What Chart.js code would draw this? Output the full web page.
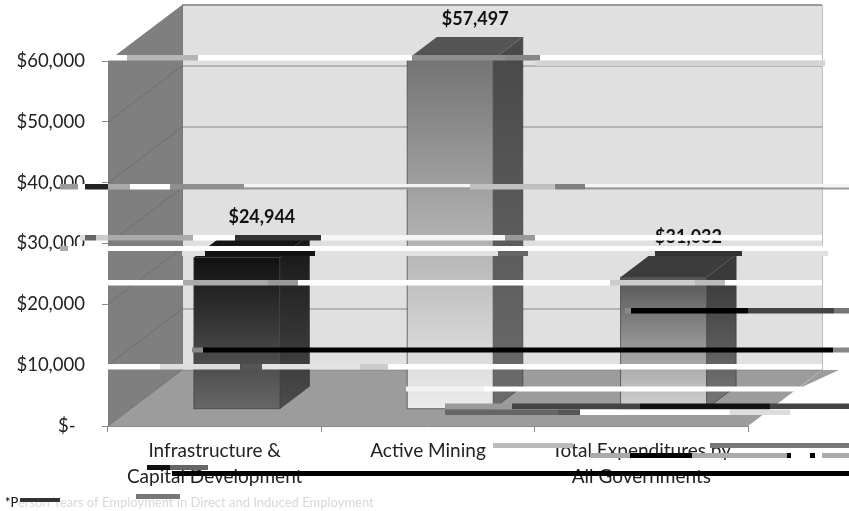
<!DOCTYPE html>
<html>
<head>
<meta charset="utf-8">
<style>
  html, body { margin: 0; padding: 0; background: #fff; }
  canvas { display: block; }
</style>
<script src="https://cdn.jsdelivr.net/npm/chart.js@4"></script>
</head>
<body>
<canvas id="chart" width="849" height="511"></canvas>
<script>
const categories = [['Infrastructure &', 'Capital Development'], ['Active Mining'], ['Total Expenditures by', 'All Governments']];
const values = [24944, 57497, 21700];
const barLabels = ['$24,944', '$57,497', '$31,032'];
const yTicks = [0, 10000, 20000, 30000, 40000, 50000, 60000];
const yTickLabels = ['$-  ', '$10,000', '$20,000', '$30,000', '$40,000', '$50,000', '$60,000'];
const footnote = '*Person Years of Employment in Direct and Induced Employment';

// colours per bar: front top/bottom, side top/bottom, lid
const barColors = [
  ['#111111', '#666666', '#1c1c1c', '#4c4c4c', '#161616'],
  ['#747474', '#ececec', '#4a4a4a', '#6c6c6c', '#555555'],
  ['#555555', '#d2d2d2', '#3a3a3a', '#787878', '#3c3c3c']
];

const FONT = 'Lato, sans-serif';
// depth of the 3d box
const DX = 74, DY = 56;
const BAR_Z0 = 0.3, BAR_Z1 = 0.7;

// scan line damage in the source image: x0, x1, y0, y1, colour
const damage = [
  [108, 127, 55, 60.5, '#fff'], [127, 198, 55, 60.5, '#b5b5b5'], [198, 412, 55, 60.5, '#fff'],
  [412, 505, 55, 60.5, '#8e8e8e'], [505, 540, 55, 60.5, '#868686'], [540, 822, 55, 60.5, '#fff'],
  [535, 825, 60.5, 66, '#d4d4d4'],
  [60, 78, 184, 189.5, '#999'], [78, 85, 184, 189.5, '#fff'], [85, 108, 184, 189.5, '#222'], [108, 130, 184, 189.5, '#aaa'], [130, 170, 184, 189.5, '#fff'],
  [170, 244, 184, 189.5, '#8f8f8f'], [244, 470, 184, 187.5, '#f4f4f4'], [244, 470, 187.5, 189.5, '#999'],
  [470, 555, 184, 189.5, '#c0c0c0'], [555, 585, 184, 189.5, '#808080'],
  [585, 849, 184, 187.5, '#f4f4f4'], [585, 849, 187.5, 189.5, '#999'],
  [80, 85, 235, 240.5, '#ddd'], [85, 96, 235, 240.5, '#666'], [96, 108, 235, 240.5, '#ccc'], [108, 193, 235, 240.5, '#aaa'], [193, 235, 235, 240.5, '#fff'],
  [235, 321, 235, 240.5, '#333'], [321, 505, 235, 240.5, '#f6f6f6'], [505, 535, 235, 240.5, '#999'],
  [535, 822, 235, 240.5, '#fff'],
  [60, 68, 246, 251, '#aaa'], [68, 830, 246, 251, '#fff'],
  [182, 205, 251, 256, '#e0e0e0'], [205, 315, 251, 256, '#111'], [315, 498, 251, 256, '#e0e0e0'],
  [498, 528, 251, 256, '#666'], [528, 655, 251, 256, '#e0e0e0'], [655, 742, 251, 256, '#333'], [742, 828, 251, 256, '#e0e0e0'],
  [108, 183, 280, 285.5, '#fff'], [183, 268, 280, 285.5, '#aaa'], [268, 298, 280, 285.5, '#999'],
  [298, 610, 280, 285.5, '#fff'], [610, 695, 280, 285.5, '#ccc'], [695, 725, 280, 285.5, '#bbb'], [725, 822, 280, 285.5, '#fff'],
  [625, 631, 308, 313.5, '#888'], [631, 748, 308, 313.5, '#000'], [748, 834, 308, 313.5, '#444'], [834, 849, 308, 313.5, '#777'],
  [192, 203, 347.5, 352.5, '#888'], [203, 833, 347.5, 352.5, '#000'], [833, 849, 347.5, 352.5, '#888'],
  [100, 160, 364, 369.5, '#fff'], [160, 240, 364, 369.5, '#ddd'], [242, 262, 364, 369.5, '#555'],
  [262, 360, 364, 369.5, '#e2e2e2'], [360, 388, 364, 369.5, '#ccc'], [388, 822, 364, 369.5, '#fff'],
  [406, 484, 386.5, 391.5, '#f2f2f2'], [484, 802, 386.5, 391.5, '#fff'],
  [445, 512, 403.5, 409, '#9a9a9a'], [512, 640, 403.5, 409, '#444'], [640, 770, 403.5, 409, '#111'], [770, 849, 403.5, 409, '#444'],
  [445, 558, 409.5, 415, '#666'], [558, 580, 409.5, 415, '#555'], [580, 730, 409.5, 415, '#fff'], [730, 790, 409.5, 415, '#ddd'],
  [493, 573, 443, 448, '#bbb'], [710, 849, 443, 448, '#777'],
  [590, 630, 453, 458, '#aaa'], [630, 692, 453, 458, '#000'], [692, 787, 453, 458, '#aaa'], [787, 791, 453, 458, '#000'],
  [810, 815, 453, 458, '#000'], [822, 849, 453, 458, '#aaa'],
  [147, 170, 465, 470, '#111'], [170, 208, 465, 470, '#666'],
  [172, 849, 471, 476, '#000'],
  [136, 180, 494, 499, '#777'], [20, 60, 498, 502, '#333']
];

function poly(ctx, pts, fill) {
  ctx.beginPath();
  pts.forEach((p, i) => i ? ctx.lineTo(p[0], p[1]) : ctx.moveTo(p[0], p[1]));
  ctx.closePath();
  ctx.fillStyle = fill;
  ctx.fill();
}

function vgrad(ctx, y0, y1, c0, c1) {
  const g = ctx.createLinearGradient(0, y0, 0, y1);
  g.addColorStop(0, c0);
  g.addColorStop(1, c1);
  return g;
}

const box3d = {
  id: 'box3d',
  beforeDatasetsDraw(chart) {
    const ctx = chart.ctx, y = chart.scales.y, a = chart.chartArea;
    const l = a.left, r = a.right, t = a.top, b = a.bottom;
    ctx.save();
    // walls and floor
    poly(ctx, [[l + DX, t - DY], [r + DX, t - DY], [r + DX, b - DY], [l + DX, b - DY]], '#e0e0e0');
    poly(ctx, [[l, t], [l + DX, t - DY], [l + DX, b - DY], [l, b]], '#7f7f7f');
    poly(ctx, [[l, b], [l + DX, b - DY], [r + DX, b - DY], [r, b]], '#9c9c9c');
    // the damaged rows push this piece of the floor to the right
    poly(ctx, [[r + DX, b - DY], [r + DX + 17, b - DY], [r + 54, b - 39], [r + 52, b - 39]], '#9c9c9c');
    ctx.strokeStyle = '#bdbdbd';
    ctx.lineWidth = 1;
    ctx.beginPath();
    ctx.moveTo(r + DX + 0.5, t - DY);
    ctx.lineTo(r + DX + 0.5, b - DY);
    ctx.stroke();
    // grid lines follow the wall
    yTicks.forEach(v => {
      const py = Math.round(y.getPixelForValue(v));
      if (v < 60000) {
        ctx.strokeStyle = '#6e6e6e';
        ctx.beginPath();
        ctx.moveTo(l, py);
        ctx.lineTo(l + DX, py - DY);
        ctx.stroke();
      }
      ctx.strokeStyle = v === 60000 ? '#999999' : '#858585';
      ctx.lineWidth = v === 60000 ? 2 : 1.2;
      ctx.beginPath();
      ctx.moveTo(l + DX, py - DY);
      ctx.lineTo(r + DX, py - DY);
      ctx.stroke();
      ctx.lineWidth = 1;
    });
    ctx.beginPath();
    ctx.strokeStyle = '#777';
    ctx.moveTo(l + DX + 0.5, t - DY);
    ctx.lineTo(l + DX + 0.5, b - DY);
    ctx.stroke();

    // bars, from the elements the bar controller laid out
    chart.getDatasetMeta(0).data.forEach((bar, i) => {
      const c = barColors[i];
      const ox = DX * BAR_Z0, oy = DY * BAR_Z0;
      const dx = DX * (BAR_Z1 - BAR_Z0), dy = DY * (BAR_Z1 - BAR_Z0);
      const x0 = bar.x - bar.width / 2 + ox, x1 = bar.x + bar.width / 2 + ox;
      const top = bar.y - oy, base = bar.base - oy;
      poly(ctx, [[x1, top], [x1 + dx, top - dy], [x1 + dx, base - dy], [x1, base]], vgrad(ctx, top, base, c[2], c[3]));
      poly(ctx, [[x0, top], [x0 + dx, top - dy], [x1 + dx, top - dy], [x1, top]], c[4]);
      ctx.fillStyle = vgrad(ctx, top, base, c[0], c[1]);
      ctx.fillRect(x0, top, x1 - x0, base - top);
      ctx.strokeStyle = 'rgba(60,60,60,0.7)';
      ctx.strokeRect(x0, top, x1 - x0, base - top);
      ctx.beginPath();
      ctx.moveTo(x1 + dx, top - dy);
      ctx.lineTo(x1 + dx, base - dy);
      ctx.lineTo(x1, base);
      ctx.stroke();
    });
    ctx.restore();
  },
  afterDraw(chart) {
    const ctx = chart.ctx;
    ctx.save();
    // value labels
    ctx.font = 'bold 18px ' + FONT;
    ctx.fillStyle = '#111';
    ctx.textAlign = 'center';
    ctx.textBaseline = 'middle';
    chart.getDatasetMeta(0).data.forEach((bar, i) => {
      ctx.fillText(barLabels[i], bar.x + DX * BAR_Z0 + 25, bar.y - DY * BAR_Z1 - 18);
    });
    // footnote
    ctx.textAlign = 'left';
    ctx.font = '13px ' + FONT;
    ctx.fillStyle = '#d8d8d8';
    ctx.fillText(footnote, 5, 503);
    ctx.fillStyle = '#111';
    ctx.fillText('*P', 5, 503);
    damage.forEach(d => {
      ctx.fillStyle = d[4];
      ctx.fillRect(d[0], d[2], d[1] - d[0], d[3] - d[2]);
    });
    ctx.restore();
  }
};

new Chart(document.getElementById('chart'), {
  type: 'bar',
  data: {
    labels: categories,
    datasets: [{
      data: values,
      backgroundColor: 'rgba(0,0,0,0)',
      borderWidth: 0,
      barPercentage: 0.403,
      categoryPercentage: 1
    }]
  },
  options: {
    responsive: false,
    animation: false,
    layout: { padding: { top: 61, right: 101, left: 0, bottom: 0 } },
    plugins: { legend: { display: false }, tooltip: { enabled: false } },
    scales: {
      y: {
        min: 0,
        max: 60000,
        afterFit(s) { s.width = 108; },
        afterBuildTicks(s) { s.ticks = yTicks.map(v => ({ value: v })); },
        border: { color: '#8a8a8a' },
        grid: { drawOnChartArea: false, color: '#8a8a8a', tickLength: 6 },
        ticks: {
          padding: 17,
          color: '#222',
          font: { family: FONT, size: 18.5 },
          callback: (v) => yTickLabels[yTicks.indexOf(v)]
        }
      },
      x: {
        afterFit(s) { s.height = 85; },
        border: { color: '#8a8a8a' },
        grid: { drawOnChartArea: false, color: '#8a8a8a', tickLength: 6 },
        ticks: {
          padding: 6,
          color: '#222',
          maxRotation: 0,
          font: { family: FONT, size: 19, lineHeight: 1.37 }
        }
      }
    }
  },
  plugins: [box3d]
});
</script>
</body>
</html>
